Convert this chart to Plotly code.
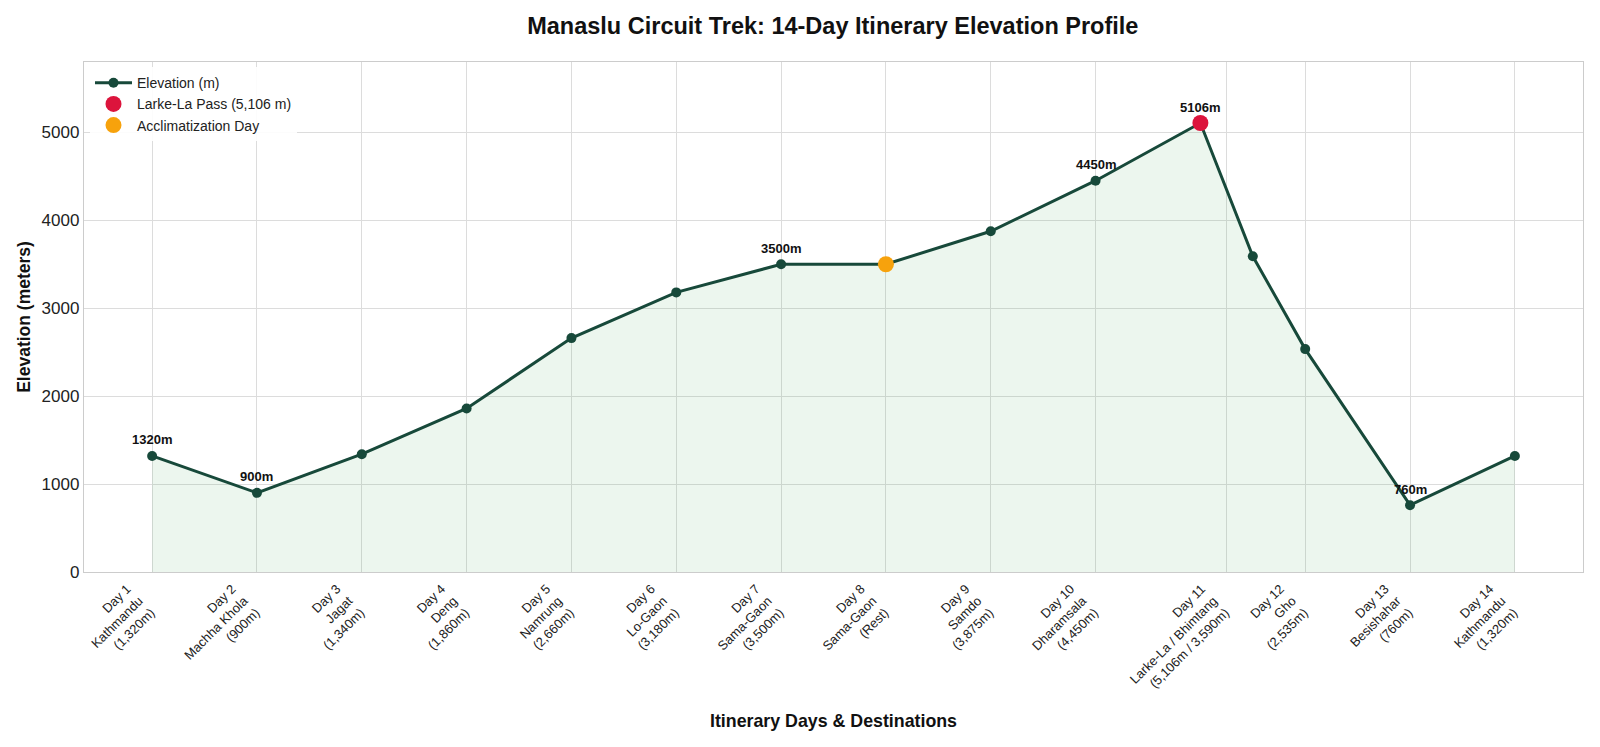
import plotly.graph_objects as go

# ---- data ----
day_pos = [1, 2, 3, 4, 5, 6, 7, 8, 9, 10, 11, 11.5, 12, 13, 14]
elevation = [1320, 900, 1340, 1860, 2660, 3180, 3500, 3500, 3875, 4450, 5106, 3590, 2535, 760, 1320]
labelled_points = [0, 1, 6, 9, 10, 13]  # indices with elevation callouts

pass_pos = [11]
pass_elev = [5106]
rest_pos = [8]
rest_elev = [3500]

tick_pos = [1, 2, 3, 4, 5, 6, 7, 8, 9, 10, 11.25, 12, 13, 14]
tick_labels = [
    "Day 1<br>Kathmandu<br>(1,320m)",
    "Day 2<br>Machha Khola<br>(900m)",
    "Day 3<br>Jagat<br>(1,340m)",
    "Day 4<br>Deng<br>(1,860m)",
    "Day 5<br>Namrung<br>(2,660m)",
    "Day 6<br>Lo-Gaon<br>(3,180m)",
    "Day 7<br>Sama-Gaon<br>(3,500m)",
    "Day 8<br>Sama-Gaon<br>(Rest)",
    "Day 9<br>Samdo<br>(3,875m)",
    "Day 10<br>Dharamsala<br>(4,450m)",
    "Day 11<br>Larke-La / Bhimtang<br>(5,106m / 3,590m)",
    "Day 12<br>Gho<br>(2,535m)",
    "Day 13<br>Besishahar<br>(760m)",
    "Day 14<br>Kathmandu<br>(1,320m)",
]

FONT = "Liberation Sans, Arial, sans-serif"
GREEN = "#17493A"

fig = go.Figure()

fig.add_trace(go.Scatter(
    x=day_pos, y=elevation, mode="lines", fill="tozeroy",
    fillcolor="rgba(40,160,70,0.09)", line=dict(color="rgba(0,0,0,0)", width=0),
    showlegend=False, hoverinfo="skip",
))
fig.add_trace(go.Scatter(
    x=day_pos, y=elevation, mode="lines+markers", name="Elevation (m)",
    line=dict(color=GREEN, width=3), marker=dict(color=GREEN, size=10),
))
fig.add_trace(go.Scatter(
    x=pass_pos, y=pass_elev, mode="markers", name="Larke-La Pass (5,106 m)",
    marker=dict(color="#DC143C", size=16),
))
fig.add_trace(go.Scatter(
    x=rest_pos, y=rest_elev, mode="markers", name="Acclimatization Day",
    marker=dict(color="#F7A20C", size=16),
))

for i in labelled_points:
    fig.add_annotation(
        x=day_pos[i], y=elevation[i], text=f"<b>{elevation[i]}m</b>",
        showarrow=False, yshift=16, font=dict(family=FONT, size=13, color="#111"),
    )

fig.update_layout(
    width=1600, height=747,
    margin=dict(l=84, r=17, t=62, b=175),
    plot_bgcolor="white", paper_bgcolor="white",
    font=dict(family=FONT, color="#222"),
    title=dict(
        text="<b>Manaslu Circuit Trek: 14-Day Itinerary Elevation Profile</b>",
        x=0.5205, xanchor="center", y=1 - 25.5 / 747, yanchor="middle", yref="container",
        font=dict(family=FONT, size=23.5, color="#111"),
    ),
    legend=dict(
        x=0.004, y=0.99, xanchor="left", yanchor="top",
        bgcolor="rgba(255,255,255,0.9)", borderwidth=0,
        font=dict(family=FONT, size=14, color="#222"),
        tracegroupgap=0, itemwidth=37,
    ),
    showlegend=True,
)

fig.update_xaxes(
    range=[0.35, 14.65], tickmode="array", tickvals=tick_pos, ticktext=tick_labels,
    tickangle=-45, tickfont=dict(family=FONT, size=13, color="#222"),
    ticklabelshift=-25, ticklabelstandoff=3, automargin=False,
    showgrid=True, gridcolor="#DCDCDC", gridwidth=1, zeroline=False,
    showline=True, linecolor="#CCCCCC", linewidth=1.3, mirror=True, ticks="",
    title=dict(text="<b>Itinerary Days & Destinations</b>", font=dict(family=FONT, size=17.8, color="#111"), standoff=16),
)
fig.update_yaxes(
    range=[0, 5800], tickvals=[0, 1000, 2000, 3000, 4000, 5000],
    tickfont=dict(family=FONT, size=17, color="#222"), automargin=False,
    showgrid=True, gridcolor="#DCDCDC", gridwidth=1, zeroline=False,
    showline=True, linecolor="#CCCCCC", linewidth=1.3, mirror=True, ticks="",
    title=dict(text="<b>Elevation (meters)</b>", font=dict(family=FONT, size=17.5, color="#111"), standoff=6),
)

fig.write_html("out.html")
